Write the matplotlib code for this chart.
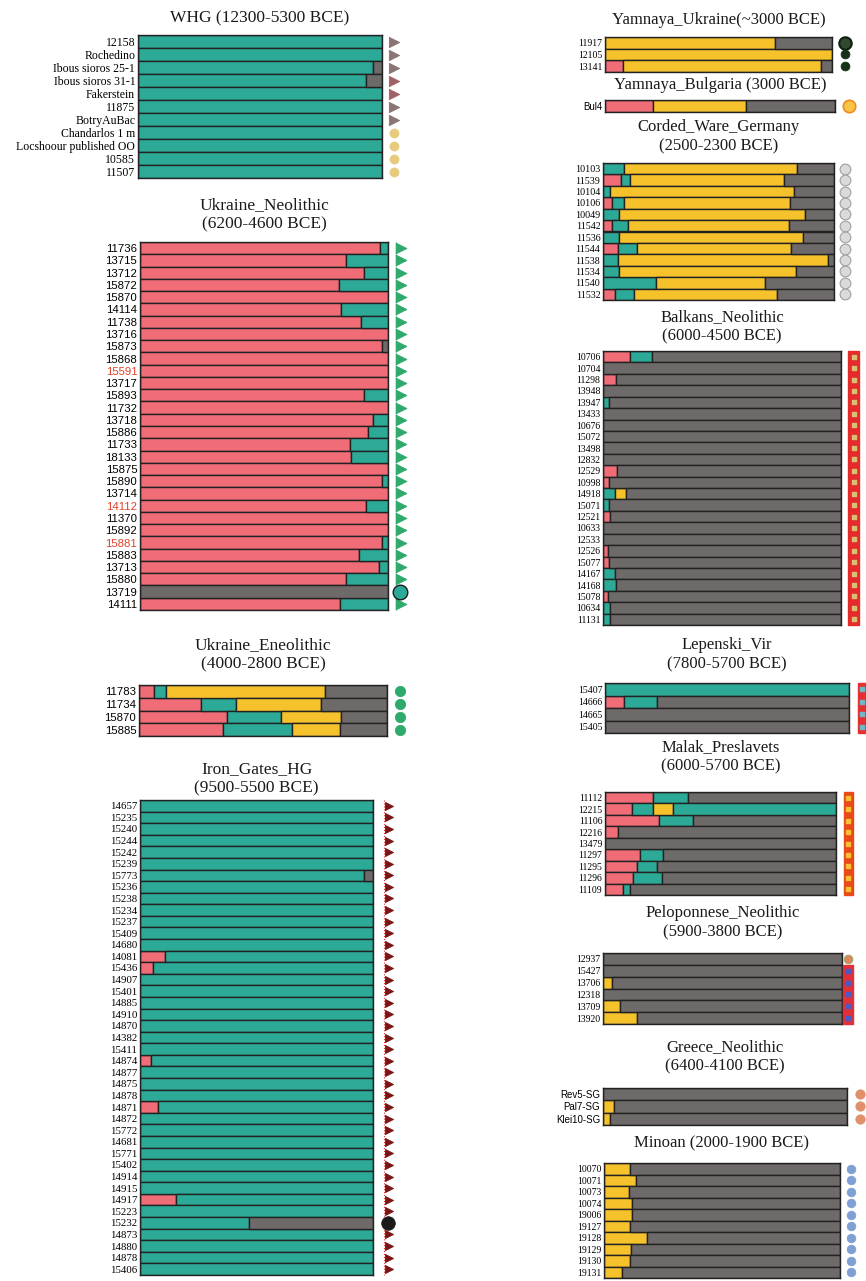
import numpy as np
import matplotlib
matplotlib.use("Agg")
import matplotlib.pyplot as plt
from matplotlib.patches import Rectangle

W, H = 866, 1281
fig = plt.figure(figsize=(W / 100, H / 100), dpi=100)
fig.patch.set_facecolor("white")

COLORS = {"pink": "#F06C77", "teal": "#2CAA97", "yellow": "#F6C22C", "gray": "#6E6A6A"}
EDGE = "#222222"
SERIF = ["Liberation Serif", "DejaVu Serif"]
SANS = ["Liberation Sans", "DejaVu Sans"]

# ---------------- data ----------------
whg_labels = ["12158", "Rochedino", "Ibous sioros 25-1", "Ibous sioros 31-1", "Fakerstein", "11875",
              "BotryAuBac", "Chandarlos 1 m", "Locshoour published OO", "10585", "11507"]
whg_teal = [1, 1, 0.965, 0.935, 1, 1, 1, 1, 1, 1, 1]
whg_gray = [0, 0, 0.035, 0.065, 0, 0, 0, 0, 0, 0, 0]

un_labels = ["11736", "13715", "13712", "15872", "15870", "14114", "11738", "13716", "15873", "15868",
             "15591", "13717", "15893", "11732", "13718", "15886", "11733", "18133", "15875", "15890",
             "13714", "14112", "11370", "15892", "15881", "15883", "13713", "15880", "13719", "14111"]
un_pink = [0.969, 0.83, 0.902, 0.803, 1, 0.81, 0.892, 1, 0.977, 1,
           1, 1, 0.902, 1, 0.94, 0.918, 0.845, 0.85, 1, 0.977,
           1, 0.912, 1, 1, 0.977, 0.884, 0.965, 0.832, 0, 0.805]
un_teal = [0.031, 0.17, 0.098, 0.197, 0, 0.19, 0.108, 0, 0, 0,
           0, 0, 0.098, 0, 0.06, 0.082, 0.155, 0.15, 0, 0.023,
           0, 0.088, 0, 0, 0.023, 0.116, 0.035, 0.168, 0, 0.195]
un_gray = [0, 0, 0, 0, 0, 0, 0, 0, 0.023, 0,
           0, 0, 0, 0, 0, 0, 0, 0, 0, 0,
           0, 0, 0, 0, 0, 0, 0, 0, 1, 0]
un_red_labels = ["15591", "14112", "15881"]

ue_labels = ["11783", "11734", "15870", "15885"]
ue_pink = [0.062, 0.252, 0.356, 0.337]
ue_teal = [0.047, 0.138, 0.217, 0.281]
ue_yellow = [0.643, 0.344, 0.243, 0.192]
ue_gray = [0.248, 0.266, 0.184, 0.19]

ig_labels = ["14657", "15235", "15240", "15244", "15242", "15239", "15773", "15236", "15238", "15234",
             "15237", "15409", "14680", "14081", "15436", "14907", "15401", "14885", "14910", "14870",
             "14382", "15411", "14874", "14877", "14875", "14878", "14871", "14872", "15772", "14681",
             "15771", "15402", "14914", "14915", "14917", "15223", "15232", "14873", "14880", "14878",
             "15406"]
ig_pink = [0, 0, 0, 0, 0, 0, 0, 0, 0, 0,
           0, 0, 0, 0.107, 0.057, 0, 0, 0, 0, 0,
           0, 0, 0.046, 0, 0, 0, 0.076, 0, 0, 0,
           0, 0, 0, 0, 0.153, 0, 0, 0, 0, 0,
           0]
ig_teal = [1, 1, 1, 1, 1, 1, 0.963, 1, 1, 1,
           1, 1, 1, 0.893, 0.943, 1, 1, 1, 1, 1,
           1, 1, 0.954, 1, 1, 1, 0.924, 1, 1, 1,
           1, 1, 1, 1, 0.847, 1, 0.466, 1, 1, 1,
           1]
ig_gray = [0, 0, 0, 0, 0, 0, 0.037, 0, 0, 0,
           0, 0, 0, 0, 0, 0, 0, 0, 0, 0,
           0, 0, 0, 0, 0, 0, 0, 0, 0, 0,
           0, 0, 0, 0, 0, 0, 0.534, 0, 0, 0,
           0]

yu_labels = ["11917", "12105", "13141"]
yu_pink = [0, 0, 0.081]
yu_yellow = [0.75, 1.0, 0.87]
yu_gray = [0.25, 0, 0.049]

yb_labels = ["Bul4"]
yb_pink = [0.21]
yb_yellow = [0.403]
yb_gray = [0.387]

cw_labels = ["10103", "11539", "10104", "10106", "10049", "11542", "11536", "11544", "11538", "11534",
             "11540", "11532"]
cw_pink = [0, 0.079, 0, 0.039, 0, 0.039, 0, 0.065, 0, 0, 0, 0.053]
cw_teal = [0.089, 0.036, 0.032, 0.05, 0.068, 0.069, 0.068, 0.082, 0.063, 0.068, 0.231, 0.082]
cw_yellow = [0.749, 0.669, 0.793, 0.72, 0.807, 0.699, 0.797, 0.667, 0.909, 0.768, 0.471, 0.62]
cw_gray = [0.162, 0.216, 0.175, 0.191, 0.125, 0.193, 0.135, 0.186, 0.028, 0.164, 0.298, 0.245]

bn_labels = ["10706", "10704", "11298", "13948", "13947", "13433", "10676", "15072", "13498", "12832",
             "12529", "10998", "14918", "15071", "12521", "10633", "12533", "12526", "15077", "14167",
             "14168", "15078", "10634", "11131"]
bn_pink = [0.112, 0, 0.053, 0, 0, 0, 0, 0, 0, 0,
           0.059, 0.025, 0, 0, 0.028, 0, 0, 0.021, 0.025, 0,
           0, 0.021, 0, 0]
bn_teal = [0.095, 0, 0, 0, 0.025, 0, 0, 0, 0, 0,
           0, 0, 0.049, 0.025, 0, 0, 0, 0, 0, 0.049,
           0.053, 0, 0.028, 0.028]
bn_yellow = [0, 0, 0, 0, 0, 0, 0, 0, 0, 0,
             0, 0, 0.049, 0, 0, 0, 0, 0, 0, 0,
             0, 0, 0, 0]
bn_gray = [0.793, 1, 0.947, 1, 0.975, 1, 1, 1, 1, 1,
           0.941, 0.975, 0.902, 0.975, 0.972, 1, 1, 0.979, 0.975, 0.951,
           0.947, 0.979, 0.972, 0.972]

lv_labels = ["15407", "14666", "14665", "15405"]
lv_pink = [0, 0.079, 0, 0]
lv_teal = [1, 0.135, 0, 0]
lv_gray = [0, 0.786, 1, 1]

mp_labels = ["11112", "12215", "11106", "12216", "13479", "11297", "11295", "11296", "11109"]
mp_pink = [0.209, 0.115, 0.234, 0.058, 0, 0.152, 0.14, 0.123, 0.076]
mp_teal = [0.149, 0.094, 0.149, 0, 0, 0.101, 0.087, 0.123, 0.032]
mp_yellow = [0, 0.087, 0, 0, 0, 0, 0, 0, 0]
mp_gray = [0.642, 0, 0.617, 0.942, 1, 0.747, 0.773, 0.754, 0.892]
mp_teal_tail = [0, 0.704, 0, 0, 0, 0, 0, 0, 0]

pn_labels = ["12937", "15427", "13706", "12318", "13709", "13920"]
pn_yellow = [0, 0, 0.039, 0, 0.07, 0.143]
pn_gray = [1, 1, 0.961, 1, 0.93, 0.857]

gn_labels = ["Rev5-SG", "Pal7-SG", "Klei10-SG"]
gn_yellow = [0, 0.045, 0.028]
gn_gray = [1, 0.955, 0.972]

mi_labels = ["10070", "10071", "10073", "10074", "19006", "19127", "19128", "19129", "19130", "19131"]
mi_yellow = [0.112, 0.134, 0.105, 0.12, 0.12, 0.112, 0.182, 0.116, 0.109, 0.078]
mi_gray = [0.888, 0.866, 0.895, 0.88, 0.88, 0.888, 0.818, 0.884, 0.891, 0.922]


# ---------------- helpers ----------------
def panel(box, labels, segs, fs=7.5, family=SERIF, red_labels=()):
    x0, y0, x1, y1 = box
    ax = fig.add_axes([x0 / W, 1 - y1 / H, (x1 - x0) / W, (y1 - y0) / H])
    n = len(labels)
    y = np.arange(n)
    left = np.zeros(n)
    for key, vals in segs:
        v = np.asarray(vals, float)
        m = v > 0
        ax.barh(y[m], v[m], left=left[m], height=1.0, color=COLORS[key],
                edgecolor=EDGE, linewidth=1.0)
        left = left + v
    ax.set_xlim(0, 1)
    ax.set_ylim(n - 0.5, -0.5)
    ax.set_yticks(y)
    ax.set_yticklabels(labels, fontsize=fs, family=family)
    for t in ax.get_yticklabels():
        if t.get_text() in red_labels:
            t.set_color("#E0402A")
    ax.tick_params(axis="y", length=0, pad=2)
    ax.set_xticks([])
    for s in ax.spines.values():
        s.set_color(EDGE)
        s.set_linewidth(1.0)
    return ax


def xdata(box, px):
    x0, _, x1, _ = box
    return (px - x0) / (x1 - x0)


def title(box, cy, text, fs=12.5):
    x0, _, x1, _ = box
    fig.text((x0 + x1) / 2 / W, 1 - cy / H, text, ha="center", va="center",
             fontsize=fs, family=SERIF, linespacing=1.3, color="#1a1a1a")


def marks(ax, box, px, rows, marker, size, fc, ec=None, lw=0.6, z=5):
    ax.scatter(np.full(len(rows), xdata(box, px)), rows, marker=marker, s=size,
               facecolor=fc, edgecolor=ec if ec else fc, linewidths=lw,
               clip_on=False, zorder=z)


def strip(ax, box, px0, px1, r0, r1, color, dot_color, rows, dot_size=5):
    xa, xb = xdata(box, px0), xdata(box, px1)
    ax.add_patch(Rectangle((xa, r0 - 0.5), xb - xa, r1 - r0 + 1, facecolor=color,
                           edgecolor=color, clip_on=False, zorder=4))
    ax.scatter(np.full(len(rows), (xa + xb) / 2), rows, marker="s", s=dot_size,
               color=dot_color, clip_on=False, zorder=5)


# ---------------- left column ----------------
b = (138, 35, 382, 178)
ax = panel(b, whg_labels, [("teal", whg_teal), ("gray", whg_gray)], fs=8.5)
title(b, 18, "WHG (12300-5300 BCE)")
marks(ax, b, 394, [0, 1, 2, 5, 6], ">", 55, "#8A7474")
marks(ax, b, 394, [3, 4], ">", 55, "#A06068")
marks(ax, b, 394, [7, 8, 9, 10], "o", 42, "#E6CB7E")

b = (140, 242, 388, 610)
ax = panel(b, un_labels, [("pink", un_pink), ("teal", un_teal), ("gray", un_gray)],
           fs=8.2, family=SANS, red_labels=un_red_labels)
title(b, 215, "Ukraine_Neolithic\n(6200-4600 BCE)")
ax.plot([xdata(b, 396), xdata(b, 396)], [-0.5, 29.5], color="#9BD6B0", lw=0.8, clip_on=False)
marks(ax, b, 401, [r for r in range(30) if r != 28], ">", 60, "#2EAA6C")
marks(ax, b, 400, [28], "o", 110, "#2CAA97", ec="#1a1a1a", lw=1.0)

b = (139, 685, 387, 736)
ax = panel(b, ue_labels, [("pink", ue_pink), ("teal", ue_teal), ("yellow", ue_yellow), ("gray", ue_gray)],
           fs=8.2, family=SANS)
title(b, 655, "Ukraine_Eneolithic\n(4000-2800 BCE)")
marks(ax, b, 400, [0, 1, 2, 3], "o", 55, "#2EAA6C")

b = (140, 800, 373, 1275)
ax = panel(b, ig_labels, [("pink", ig_pink), ("teal", ig_teal), ("gray", ig_gray)], fs=7.8)
title(b, 779, "Iron_Gates_HG\n(9500-5500 BCE)")
ax.plot([xdata(b, 384), xdata(b, 384)], [-0.5, 40.5], color="#E03030", lw=0.8, ls=":", clip_on=False)
marks(ax, b, 389, [r for r in range(41) if r != 36], ">", 34, "#7A1515")
marks(ax, b, 388, [36], "o", 95, "#1a1a1a")

# ---------------- right column ----------------
b = (605, 37, 832, 72)
ax = panel(b, yu_labels, [("pink", yu_pink), ("yellow", yu_yellow), ("gray", yu_gray)], fs=7)
title(b, 20, "Yamnaya_Ukraine(~3000 BCE)", fs=12)
marks(ax, b, 845, [0], "o", 80, "#2F4A2F", ec="#0F200F", lw=1.5)
marks(ax, b, 845, [1, 2], "o", 40, "#183218")

b = (605, 100, 835, 112)
ax = panel(b, yb_labels, [("pink", yb_pink), ("yellow", yb_yellow), ("gray", yb_gray)], fs=7, family=SANS)
title(b, 85, "Yamnaya_Bulgaria (3000 BCE)", fs=12)
marks(ax, b, 849, [0], "o", 80, "#F8C444", ec="#F08A20", lw=1.2)

b = (603, 163, 834, 300)
ax = panel(b, cw_labels, [("pink", cw_pink), ("teal", cw_teal), ("yellow", cw_yellow), ("gray", cw_gray)], fs=7.2)
title(b, 137, "Corded_Ware_Germany\n(2500-2300 BCE)", fs=12)
marks(ax, b, 845, list(range(12)), "o", 60, "#DADADA", ec="#A0A0A0", lw=0.8)

b = (603, 351, 841, 625)
ax = panel(b, bn_labels, [("pink", bn_pink), ("teal", bn_teal), ("yellow", bn_yellow), ("gray", bn_gray)], fs=7)
title(b, 327, "Balkans_Neolithic\n(6000-4500 BCE)", fs=12)
strip(ax, b, 848, 859, 0, 23, "#E42A2A", "#D8C070", list(range(24)), dot_size=6)

b = (605, 683, 849, 733)
ax = panel(b, lv_labels, [("pink", lv_pink), ("teal", lv_teal), ("gray", lv_gray)], fs=7)
title(b, 655, "Lepenski_Vir\n(7800-5700 BCE)", fs=12)
strip(ax, b, 858, 866, 0, 3, "#E43030", "#70B8C8", [0, 1, 2, 3], dot_size=6)

b = (605, 792, 836, 895)
ax = panel(b, mp_labels, [("pink", mp_pink), ("teal", mp_teal), ("yellow", mp_yellow),
                          ("gray", mp_gray), ("teal", mp_teal_tail)], fs=7)
title(b, 757, "Malak_Preslavets\n(6000-5700 BCE)", fs=12)
strip(ax, b, 844, 853, 0, 8, "#E84A1A", "#F6C030", list(range(9)), dot_size=8)

b = (603, 953, 842, 1024)
ax = panel(b, pn_labels, [("yellow", pn_yellow), ("gray", pn_gray)], fs=7)
title(b, 923, "Peloponnese_Neolithic\n(5900-3800 BCE)", fs=12)
marks(ax, b, 848, [0], "o", 40, "#E0845E", ec="#8AB070", lw=0.6)
strip(ax, b, 843, 853, 1, 5, "#E0303A", "#4A5AC0", [1, 2, 3, 4, 5], dot_size=5)

b = (603, 1088, 847, 1125)
ax = panel(b, gn_labels, [("yellow", gn_yellow), ("gray", gn_gray)], fs=7, family=SANS)
title(b, 1057, "Greece_Neolithic\n(6400-4100 BCE)", fs=12)
marks(ax, b, 860, [0, 1, 2], "o", 45, "#E0906A")

b = (604, 1163, 840, 1278)
ax = panel(b, mi_labels, [("yellow", mi_yellow), ("gray", mi_gray)], fs=7)
title(b, 1143, "Minoan (2000-1900 BCE)", fs=12)
marks(ax, b, 851, list(range(10)), "o", 38, "#7FA0D2")

fig.savefig("out.png", dpi=100, facecolor="white")
